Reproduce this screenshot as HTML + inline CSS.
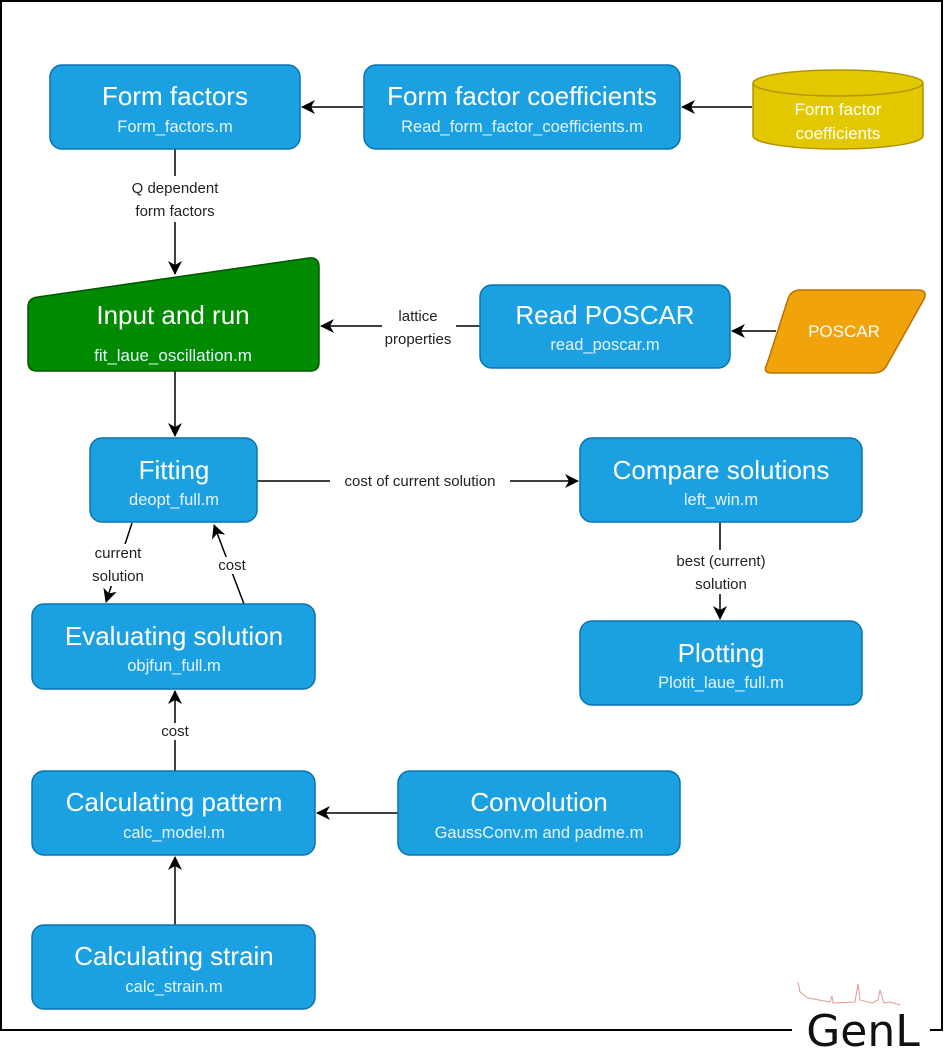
<!DOCTYPE html>
<html><head><meta charset="utf-8"><style>
html,body{margin:0;padding:0;background:#fff;}
svg{display:block;font-family:"Liberation Sans",Arial,sans-serif;}
.t{fill:#fff;font-size:26px;text-anchor:middle;}
.s{fill:#e6f4ff;font-size:16.5px;text-anchor:middle;}
.l{fill:#222;font-size:15px;text-anchor:middle;}
.b{fill:#1ba1e2;stroke:#0a73b3;stroke-width:1.5;}
.e{stroke:#000;stroke-width:1.5;fill:none;}
</style></head><body>
<svg width="947" height="1053" viewBox="0 0 947 1053">
<defs><marker id="a" markerWidth="16" markerHeight="16" refX="13" refY="7" orient="auto" markerUnits="userSpaceOnUse"><path d="M0,0 L14,7 L0,14 L4,7 z" fill="#000"/></marker></defs>
<rect width="947" height="1053" fill="#fff"/>
<path d="M792,1030 L1,1030 L1,1 L942,1 L942,1030 L930,1030" stroke="#000" stroke-width="2" fill="none"/>
<path d="M798,982 L800,992 L808,998 L830,1002 L832,996 L833,1003 L855,1002 L858,984 L860,1000 L872,1003 L878,1000 L880,990 L884,1003 L890,1002 L900,1005" stroke="#e08080" stroke-width="1" fill="none" opacity="0.8"/>
<text x="863" y="1046" font-size="44" text-anchor="middle" font-family="'DejaVu Sans',sans-serif" fill="#111">GenL</text>

<line class="e" x1="363" y1="107" x2="302" y2="107" marker-end="url(#a)"/>
<line class="e" x1="752" y1="107" x2="682" y2="107" marker-end="url(#a)"/>
<line class="e" x1="175" y1="149" x2="175" y2="274" marker-end="url(#a)"/>
<rect x="120" y="176" width="110" height="46" fill="#fff"/>
<text class="l" x="175" y="193">Q dependent</text>
<text class="l" x="175" y="216">form factors</text>
<line class="e" x1="480" y1="326" x2="321" y2="326" marker-end="url(#a)"/>
<rect x="382" y="306" width="74" height="42" fill="#fff"/>
<text class="l" x="418" y="321">lattice</text>
<text class="l" x="418" y="344">properties</text>
<line class="e" x1="776" y1="331" x2="732" y2="331" marker-end="url(#a)"/>
<line class="e" x1="175" y1="371" x2="175" y2="436" marker-end="url(#a)"/>
<line class="e" x1="257" y1="481" x2="578" y2="481" marker-end="url(#a)"/>
<rect x="330" y="473" width="180" height="16" fill="#fff"/>
<text class="l" x="420" y="486">cost of current solution</text>
<line class="e" x1="720" y1="522" x2="720" y2="619" marker-end="url(#a)"/>
<rect x="666" y="550" width="110" height="44" fill="#fff"/>
<text class="l" x="721" y="566">best (current)</text>
<text class="l" x="721" y="589">solution</text>
<line class="e" x1="132" y1="523" x2="106" y2="602" marker-end="url(#a)"/>
<rect x="90" y="544" width="58" height="42" fill="#fff"/>
<text class="l" x="118" y="558">current</text>
<text class="l" x="118" y="581">solution</text>
<line class="e" x1="244" y1="604" x2="214" y2="525" marker-end="url(#a)"/>
<rect x="216" y="557" width="32" height="17" fill="#fff"/>
<text class="l" x="232" y="570">cost</text>
<line class="e" x1="175" y1="771" x2="175" y2="691" marker-end="url(#a)"/>
<rect x="159" y="723" width="32" height="17" fill="#fff"/>
<text class="l" x="175" y="736">cost</text>
<line class="e" x1="398" y1="813" x2="317" y2="813" marker-end="url(#a)"/>
<line class="e" x1="175" y1="925" x2="175" y2="857" marker-end="url(#a)"/>

<rect class="b" x="50" y="65" width="250" height="84" rx="12"/>
<text class="t" x="175" y="105">Form factors</text><text class="s" x="175" y="132">Form_factors.m</text>
<rect class="b" x="364" y="65" width="316" height="84" rx="12"/>
<text class="t" x="522" y="105">Form factor coefficients</text><text class="s" x="522" y="132">Read_form_factor_coefficients.m</text>
<path d="M753,83 L753,136 A85,13 0 0 0 923,136 L923,83" fill="#e3c800" stroke="#b09500" stroke-width="1.5"/>
<ellipse cx="838" cy="83" rx="85" ry="13" fill="#e3c800" stroke="#b09500" stroke-width="1.5"/>
<text x="838" y="115" font-size="17" fill="#fff" text-anchor="middle">Form factor</text>
<text x="838" y="139" font-size="17" fill="#fff" text-anchor="middle">coefficients</text>

<path d="M38,297 L309,258 Q319,257 319,267 L319,362 Q319,371 310,371 L37,371 Q28,371 28,362 L28,307 Q28,298 38,297 Z" fill="#008a00" stroke="#005700" stroke-width="1.5"/>
<text class="t" x="173" y="324">Input and run</text><text class="s" x="173" y="361" style="font-size:17px">fit_laue_oscillation.m</text>
<rect class="b" x="480" y="285" width="250" height="83" rx="12"/>
<text class="t" x="605" y="324">Read POSCAR</text><text class="s" x="605" y="350">read_poscar.m</text>
<path d="M800,290 L918,290 Q928,290 924,299 L887,365 Q883,373 873,373 L772,373 Q762,373 767,364 L788,299 Q791,290 800,290 Z" fill="#f0a30a" stroke="#bd7000" stroke-width="1.5"/>
<text x="844" y="337" font-size="17" fill="#fff" text-anchor="middle">POSCAR</text>

<rect class="b" x="90" y="438" width="167" height="84" rx="12"/>
<text class="t" x="174" y="479">Fitting</text><text class="s" x="174" y="505">deopt_full.m</text>
<rect class="b" x="580" y="438" width="282" height="84" rx="12"/>
<text class="t" x="721" y="479">Compare solutions</text><text class="s" x="721" y="505">left_win.m</text>
<rect class="b" x="32" y="604" width="283" height="85" rx="12"/>
<text class="t" x="174" y="645">Evaluating solution</text><text class="s" x="174" y="671">objfun_full.m</text>
<rect class="b" x="580" y="621" width="282" height="84" rx="12"/>
<text class="t" x="721" y="662">Plotting</text><text class="s" x="721" y="688">Plotit_laue_full.m</text>
<rect class="b" x="32" y="771" width="283" height="84" rx="12"/>
<text class="t" x="174" y="811">Calculating pattern</text><text class="s" x="174" y="838">calc_model.m</text>
<rect class="b" x="398" y="771" width="282" height="84" rx="12"/>
<text class="t" x="539" y="811">Convolution</text><text class="s" x="539" y="838">GaussConv.m and padme.m</text>
<rect class="b" x="32" y="925" width="283" height="84" rx="12"/>
<text class="t" x="174" y="965">Calculating strain</text><text class="s" x="174" y="992">calc_strain.m</text>
</svg>
</body></html>
